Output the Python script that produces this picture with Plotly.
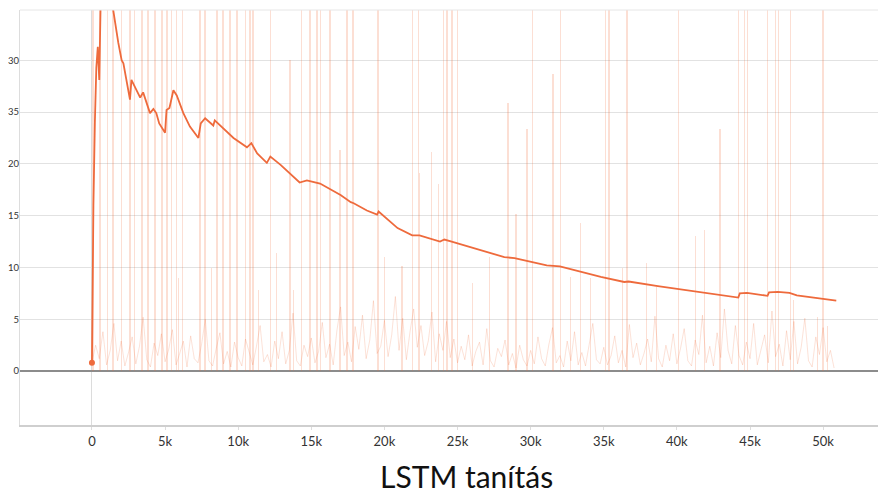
import plotly.graph_objects as go

# ---- data ----
x_tick_vals = [0, 5000, 10000, 15000, 20000, 25000, 30000, 35000, 40000, 45000, 50000]
x_tick_text = ["0", "5k", "10k", "15k", "20k", "25k", "30k", "35k", "40k", "45k", "50k"]
y_tick_vals = [0, 5, 10, 15, 20, 25, 30]
y_tick_text = ["0", "5", "10", "15", "20", "35", "30"]

# smoothed loss curve
smooth_steps = [0, 50, 100, 200, 300, 400, 500, 600, 1000, 1300, 1460, 1800, 2030, 2150, 2370,
                2600, 2700, 2950, 3300, 3500, 3970, 4200, 4400, 4600, 5000, 5100, 5300, 5570,
                5800, 6250, 6700, 7280, 7440, 7740, 8300, 8400, 8990, 9680, 10600, 10900, 11300,
                11960, 12200, 12900, 14200, 14700, 15600, 17000, 17700, 17900, 18800, 19500,
                19600, 20900, 21900, 22400, 23800, 24100, 24600, 26100, 28200, 28900, 31100,
                32000, 34100, 34800, 36400, 36700, 38700, 41000, 42800, 44200, 44300, 44800,
                46200, 46300, 46900, 47700, 48200, 50900]
smooth_vals = [0.8, 11.0, 16.0, 24.0, 29.3, 31.3, 28.1, 36.0, 40.0, 37.0, 34.8, 31.7, 30.0, 29.7,
               28.1, 26.2, 28.1, 27.4, 26.4, 26.9, 24.9, 25.3, 24.9, 23.9, 23.0, 25.2, 25.4, 27.1,
               26.6, 24.9, 23.6, 22.5, 23.9, 24.4, 23.7, 24.2, 23.4, 22.5, 21.6, 22.0, 21.0,
               20.1, 20.7, 19.9, 18.2, 18.4, 18.1, 17.0, 16.3, 16.2, 15.5, 15.1,
               15.4, 13.8, 13.1, 13.1, 12.5, 12.7, 12.5, 11.9, 11.0, 10.9, 10.2,
               10.1, 9.3, 9.1, 8.6, 8.65, 8.2, 7.75, 7.4, 7.1, 7.5, 7.55,
               7.27, 7.6, 7.65, 7.55, 7.3, 6.8]

# raw loss: low background noise sampled every 250 steps
raw_base_vals = [
    0.8, 2.5, 1.2, 3.8, 0.6, 2.0, 4.6, 1.0, 2.9, 0.5, 1.8, 3.3, 0.7, 2.4, 5.2, 1.1, 0.4, 2.7, 1.5, 3.6,
    0.9, 2.1, 4.0, 0.6, 1.7, 2.9, 0.4, 3.4, 1.2, 0.8, 2.6, 5.0, 1.0, 0.5, 2.2, 3.7, 0.7, 1.9, 0.4, 2.8,
    1.3, 0.5, 3.1, 1.8, 0.6, 2.4, 4.4, 0.9, 1.6, 0.4, 2.9, 1.2, 3.8, 0.7, 2.0, 5.6, 1.0, 0.5, 2.5, 1.4,
    3.2, 0.8, 1.9, 4.7, 1.3, 2.6, 0.6, 3.9, 6.2, 1.5, 2.8, 0.9, 4.3, 2.1, 5.4, 1.2, 3.0, 6.8, 1.7, 2.4,
    4.9, 1.4, 3.5, 7.2, 2.0, 5.1, 1.1, 3.8, 6.0, 2.3, 4.4, 1.5, 2.9, 5.7, 0.9, 3.6, 2.0, 4.8, 1.3, 3.1,
    0.8, 2.4, 1.1, 3.5, 0.5, 1.9, 2.8, 0.6, 4.1, 1.0, 0.4, 2.2, 1.4, 3.0, 0.6, 1.7, 0.3, 2.5, 1.1, 0.5,
    2.0, 0.7, 3.3, 1.2, 0.5, 2.6, 4.2, 0.8, 1.5, 0.4, 2.9, 1.0, 3.8, 0.6, 1.8, 0.5, 2.4, 4.6, 1.1, 0.7,
    2.3, 0.6, 1.5, 3.4, 0.8, 2.0, 0.4, 4.5, 1.3, 2.7, 0.6, 1.7, 3.1, 0.9, 5.3, 1.2, 0.4, 2.5, 1.0, 3.6,
    0.7, 2.2, 4.1, 1.0, 0.5, 3.0, 1.6, 5.4, 0.8, 2.4, 0.5, 3.7, 1.3, 6.0, 2.0, 0.7, 4.4, 1.5, 0.6, 2.8,
    1.2, 4.6, 0.6, 2.1, 3.5, 0.8, 5.8, 1.4, 2.6, 0.5, 3.9, 1.1, 4.8, 0.7, 2.3, 5.1, 1.0, 0.4, 3.3, 1.6,
    4.2, 0.9, 2.0, 0.3]
raw_base_spacing = 250

# raw loss: spikes (steps, value); values above the axis top run off the chart
spike_steps = [70, 550, 1090, 1440, 2050, 2600, 2940, 3420, 3830, 4310, 4790, 5130, 5470, 5810,
               6220, 7390, 7730, 8550, 8960, 9440, 9920, 10470, 10810, 11010, 12180, 14360,
               14910, 15390, 15600, 16280, 17440, 17850, 19560, 21890, 22300, 24010, 24280,
               24620, 24970, 30100, 32010, 35090, 35360, 36590, 40080, 44190, 44600, 44800,
               46170, 46720, 46920, 47740, 49990,
               13540, 23250, 16960, 23670, 28450, 29750, 31530, 42950, 41900, 41300, 37940,
               21200, 20000, 22400, 26000, 27200, 29000, 33400, 32700, 34100,
               5900, 8200, 11400, 12600, 13800, 36300, 38600, 48000, 49600, 50300]
spike_vals = [60] * 53 + [30.0, 21.1, 21.3, 18.1, 25.9, 23.4, 28.7, 23.4, 13.6, 13.0, 10.4,
                          10.1, 11.0, 19.1, 8.5, 11.0, 15.2, 14.3, 9.1, 9.0,
                          9.0, 10.0, 7.8, 11.4, 7.8, 10.0, 8.1, 6.9, 5.2, 4.4]

# ---- figure ----
raw_color = "rgba(240,110,60,0.2)"
spike_color = "rgba(240,110,60,0.22)"
line_color = "#ee6a3c"

base_steps = [i * raw_base_spacing for i in range(len(raw_base_vals))]

fig = go.Figure()
fig.add_trace(go.Scatter(x=base_steps, y=raw_base_vals, mode="lines",
                         line=dict(color=raw_color, width=1), hoverinfo="skip"))
fig.add_trace(go.Bar(x=spike_steps, y=spike_vals, width=75,
                     marker=dict(color=spike_color, line=dict(width=0)), hoverinfo="skip"))
fig.add_trace(go.Scatter(x=smooth_steps, y=smooth_vals, mode="lines",
                         line=dict(color=line_color, width=1.8)))
fig.add_trace(go.Scatter(x=smooth_steps[:1], y=smooth_vals[:1], mode="markers",
                         marker=dict(color=line_color, size=6)))

# the page body has an 8px margin, so the figure is 8px smaller than the window
fig.update_layout(
    width=878, height=487,
    margin=dict(l=12, r=0, t=2, b=70),
    paper_bgcolor="white", plot_bgcolor="white",
    showlegend=False, barmode="overlay", bargap=0,
    font=dict(family="Lato", color="#444"),
    xaxis=dict(range=[-4920, 54300], tickvals=x_tick_vals, ticktext=x_tick_text,
               showgrid=False, zeroline=True, zerolinecolor="#dcdcdc", zerolinewidth=1,
               showline=True, linecolor="#cfcfcf", linewidth=2, mirror=False,
               ticks="outside", ticklen=3, tickcolor="#dddddd",
               tickfont=dict(size=13, color="#333"), automargin=False),
    yaxis=dict(range=[-5.2, 34.85], tickvals=y_tick_vals, ticktext=y_tick_text,
               showgrid=True, gridcolor="#e2e2e2", gridwidth=1,
               zeroline=True, zerolinecolor="#8c8c8c", zerolinewidth=2,
               showline=True, linecolor="#dddddd", linewidth=1, mirror=False,
               ticks="", ticklabelstandoff=-2,
               tickfont=dict(size=9.5, color="#333"), automargin=False),
    shapes=[dict(type="line", xref="paper", yref="paper", x0=0, x1=1, y0=1, y1=1,
                 line=dict(color="#e6e6e6", width=1))],
    annotations=[dict(text="LSTM tanítás", xref="paper", yref="paper", x=0.516, y=-0.1229,
                      xanchor="center", yanchor="middle", showarrow=False,
                      font=dict(family="Lato", size=30, color="#111"))],
)

fig.write_html("out.html")
